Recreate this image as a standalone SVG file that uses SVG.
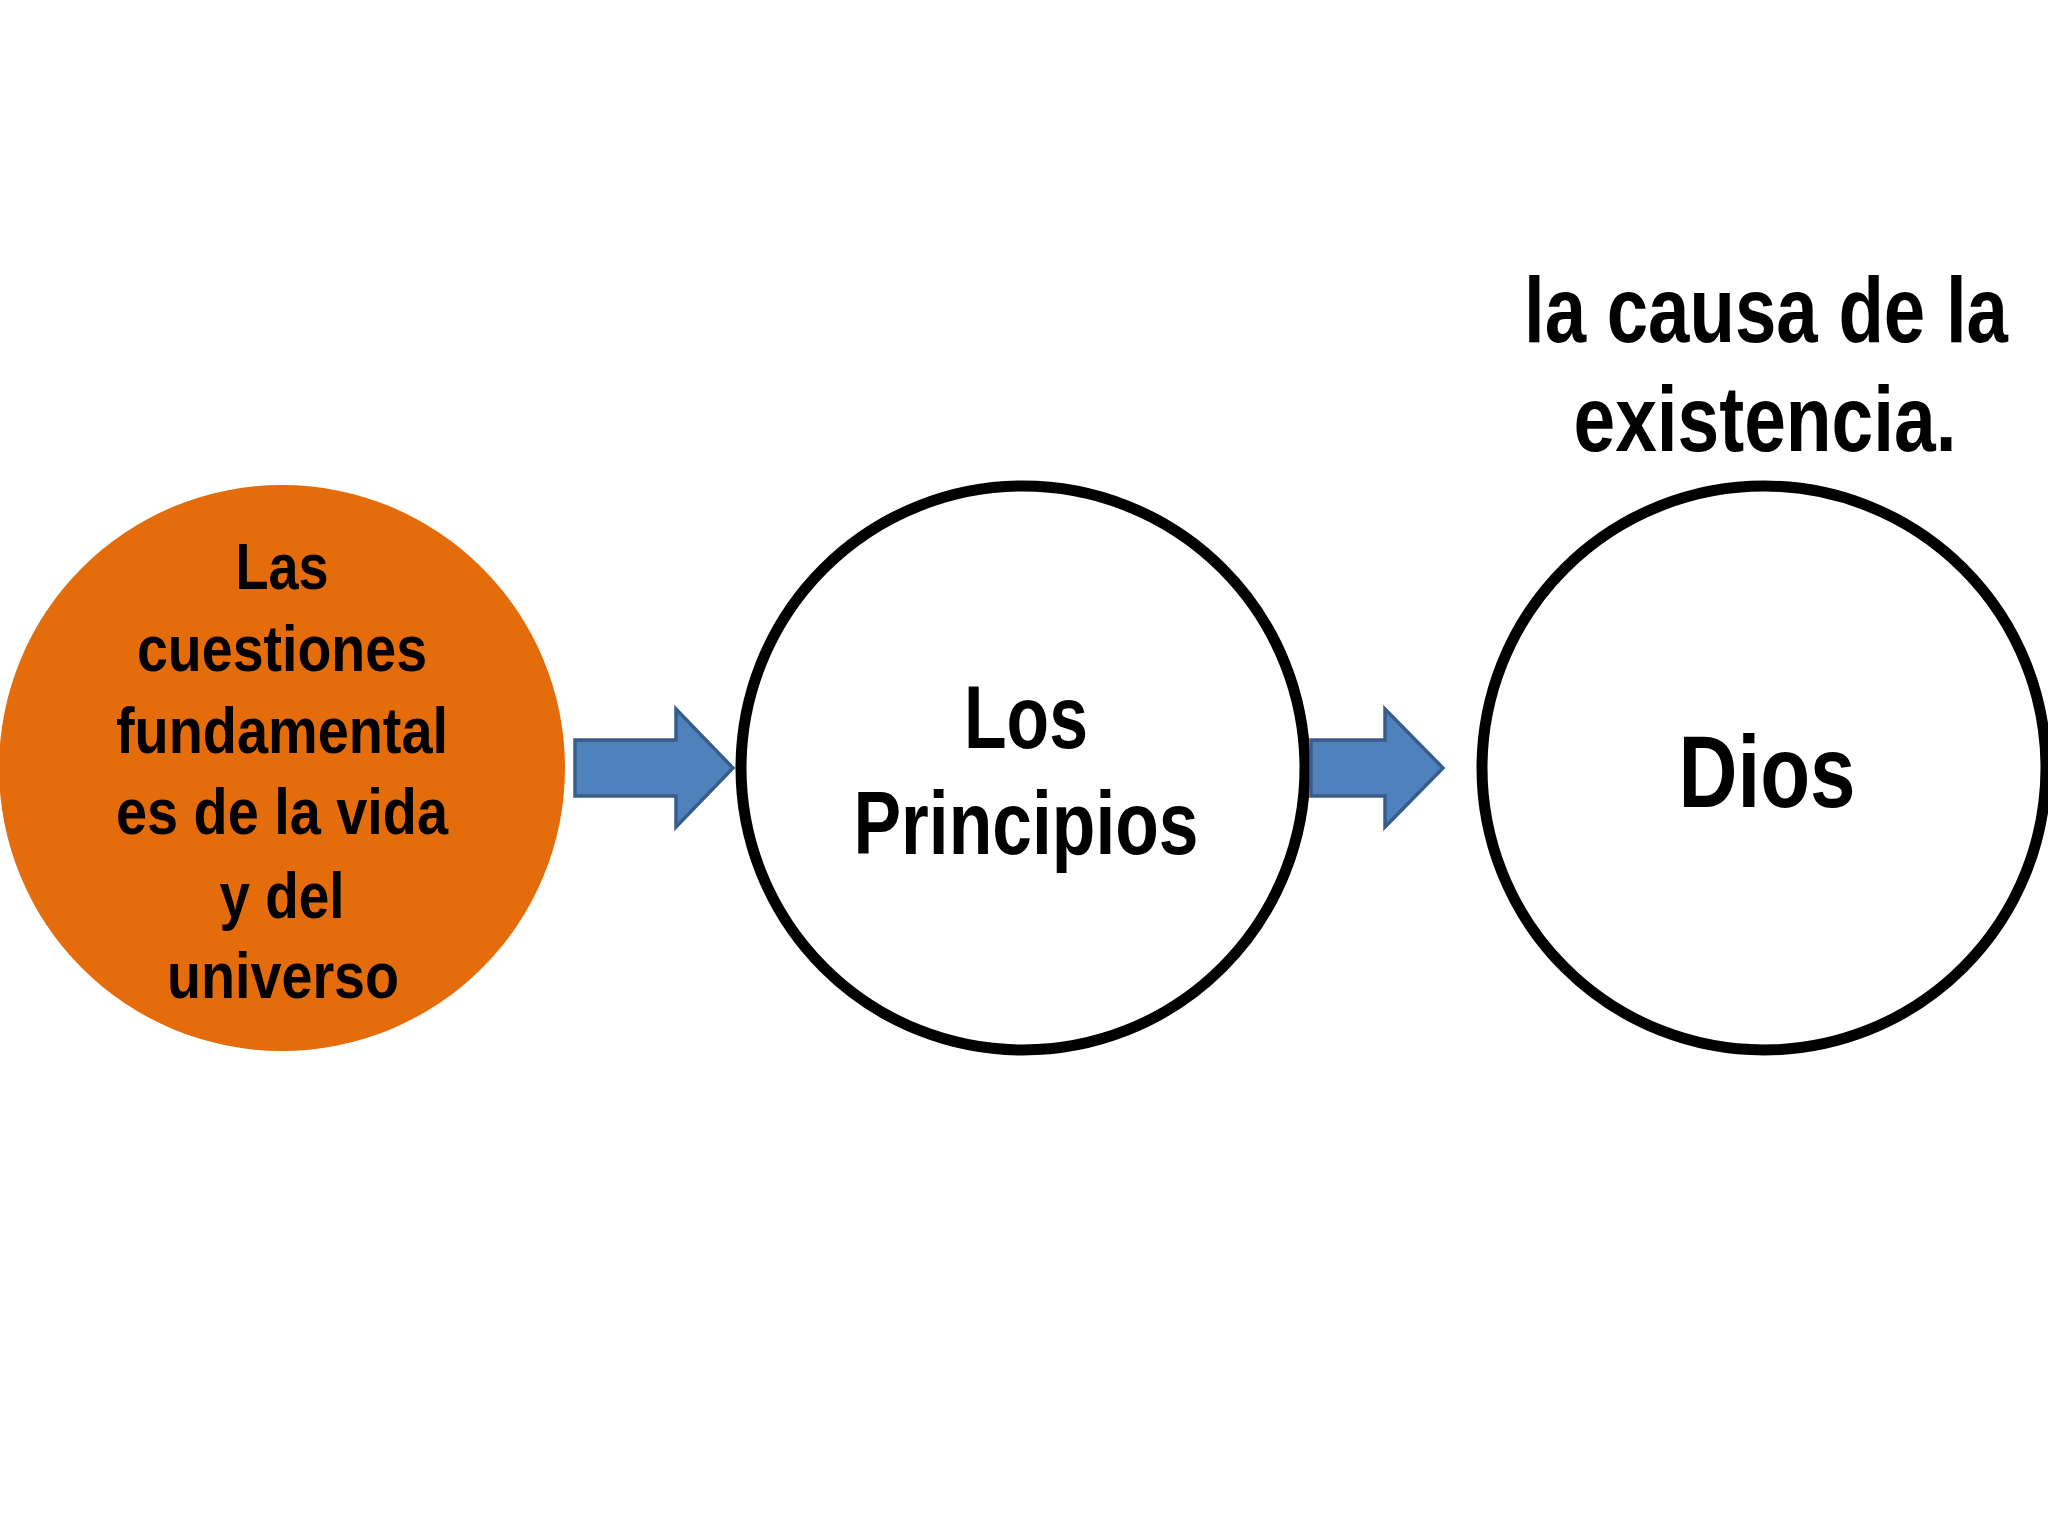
<svg xmlns="http://www.w3.org/2000/svg" width="2048" height="1536" viewBox="0 0 2048 1536">
<style>
.t{font-family:"Liberation Sans Narrow","Arial Narrow","Liberation Sans",sans-serif;font-weight:bold;fill:#000;text-anchor:middle}
.ring{fill:#fff;stroke:#000;stroke-width:11}
.arrow{fill:#4f81bd;stroke:#385d8a;stroke-width:3.5;stroke-linejoin:miter}
</style>
<rect width="2048" height="1536" fill="#fff"/>
<g id="label-top">
<text class="t" x="1766" y="342" font-size="93" textLength="484" lengthAdjust="spacingAndGlyphs">la causa de la</text>
<text class="t" x="1765" y="451" font-size="93" textLength="383" lengthAdjust="spacingAndGlyphs">existencia.</text>
</g>
<g id="node-cuestiones">
<circle cx="282" cy="768" r="283" fill="#e46c0a"/>
<text class="t" font-size="64" x="282" y="589" textLength="93" lengthAdjust="spacingAndGlyphs">Las</text>
<text class="t" font-size="64" x="282" y="671" textLength="290" lengthAdjust="spacingAndGlyphs">cuestiones</text>
<text class="t" font-size="64" x="282" y="753" textLength="332" lengthAdjust="spacingAndGlyphs">fundamental</text>
<text class="t" font-size="64" x="282" y="834" textLength="332" lengthAdjust="spacingAndGlyphs">es de la vida</text>
<text class="t" font-size="64" x="282" y="918" textLength="125" lengthAdjust="spacingAndGlyphs">y del</text>
<text class="t" font-size="64" x="283" y="998" textLength="232" lengthAdjust="spacingAndGlyphs">universo</text>
</g>
<g id="node-principios">
<circle class="ring" cx="1023" cy="768" r="282"/>
<text class="t" font-size="89" x="1026" y="748" textLength="124" lengthAdjust="spacingAndGlyphs">Los</text>
<text class="t" font-size="89" x="1026" y="854" textLength="345" lengthAdjust="spacingAndGlyphs">Principios</text>
</g>
<g id="node-dios">
<circle class="ring" cx="1764" cy="768" r="282"/>
<text class="t" x="1767" y="807" font-size="102" textLength="177" lengthAdjust="spacingAndGlyphs">Dios</text>
</g>
<g id="connectors">
<polygon class="arrow" points="575,740 676,740 676,709 733,768 676,827 676,796 575,796"/>
<polygon class="arrow" points="1311,740 1385,740 1385,709 1443,768 1385,827 1385,796 1311,796"/>
</g>
</svg>
